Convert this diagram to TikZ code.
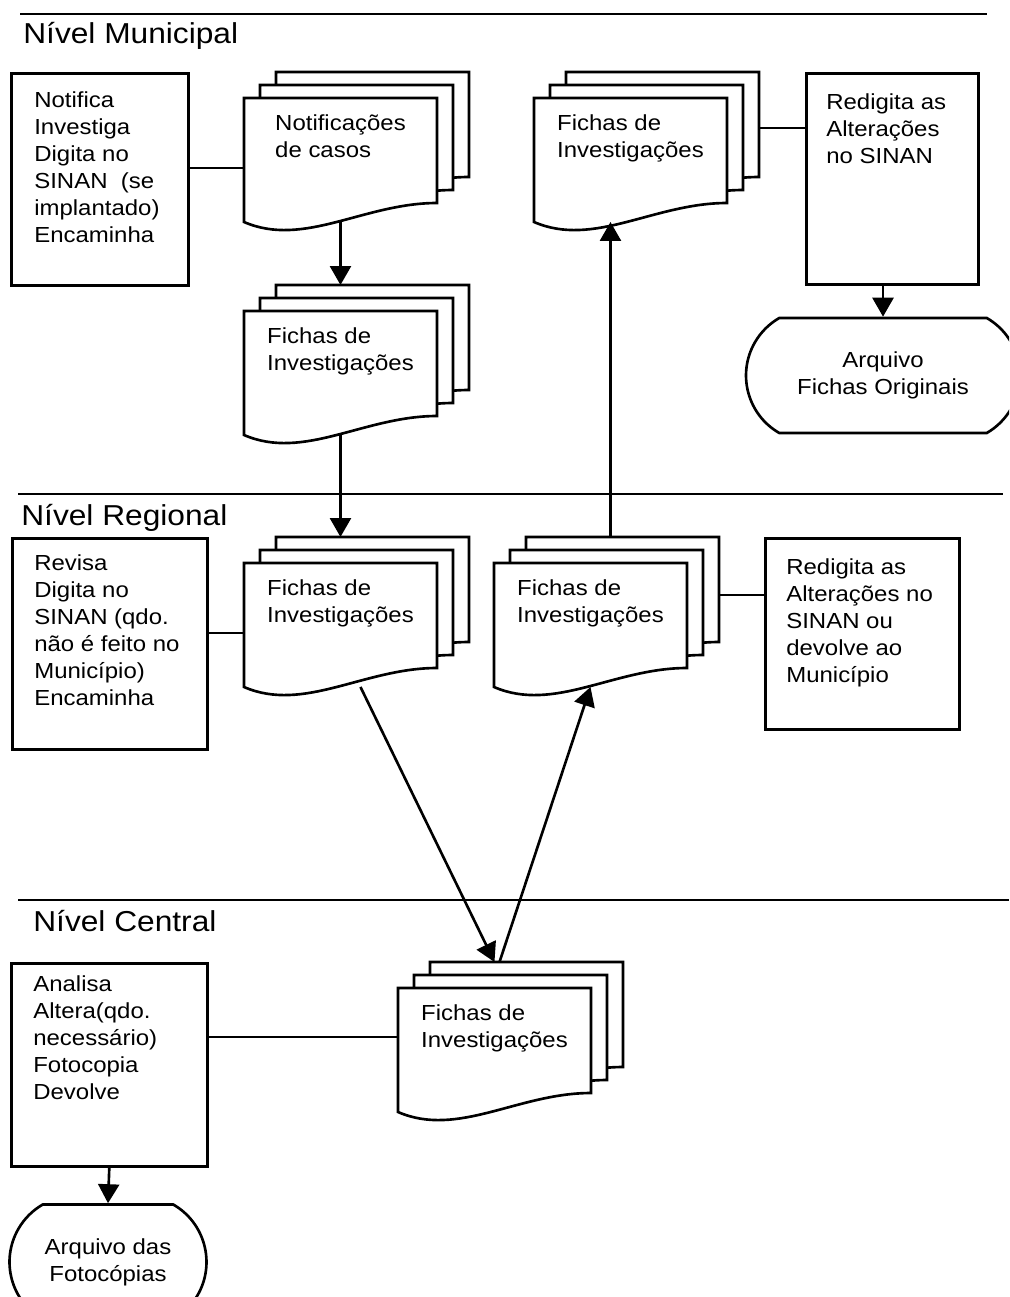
\documentclass[tikz,border=0pt]{standalone}
\usepackage{fontspec}
\setmainfont[FakeStretch=1.1]{Liberation Sans}
\usetikzlibrary{arrows.meta,shapes.misc}

\tikzset{
  txt/.style={font=\fontsize{12.4}{15.4}\selectfont, align=left, inner sep=0pt},
  nivel/.style={font=\fontsize{16.4}{19}\selectfont, inner sep=0pt, anchor=base west},
  caixa/.style={draw, anchor=north west, inner sep=0pt},
  pagebox/.style={anchor=north west, inner sep=0pt, outer sep=0pt,
    minimum width=3.86cm, minimum height=2.48cm},
  folha/.style={draw, fill=white},
  arquivo/.style={draw, rounded rectangle, rounded rectangle arc length=120,
    minimum height=2.3cm, inner sep=0pt, align=center,
    font=\fontsize{12.4}{15.4}\selectfont},
  seta/.style={-{Triangle[length=3.8mm,width=4.2mm]}},
}

% three stacked pages: name, x and y of the front page, text
\newcommand\fichas[4]{%
  \foreach \k in {2,1,0}
    \filldraw[folha, shift={(#2+16*\k,#3-13*\k)}] (0,0) -- (193,0) -- (193,105)
      .. controls (120,105) and (60,150) .. (0,124) -- cycle;
  \node[pagebox] (#1-b) at (#2+32,#3-26) {};
  \node[pagebox] (#1) at (#2,#3) {};
  \node[txt, anchor=north] (#1-t) at ([yshift=-3.1mm]#1.north) {#4};
}

\begin{document}
\begin{tikzpicture}[x=0.02cm, y=-0.02cm, line width=1.5pt]
\useasboundingbox (0,0) rectangle (1009,1297);
\clip (0,0) rectangle (1009,1297);

% Nivel Municipal
\draw (20,14) -- (987,14);
\node[nivel] (nmun) at (22,44) {Nível Municipal};
\node[caixa, minimum width=3.54cm, minimum height=4.24cm] (mbox) at (10,72) {};
\node[txt, anchor=north west] (mbox-t) at ([shift={(23,18.4)}]mbox.north west)
  {Notifica\\Investiga\\Digita no\\SINAN\ \ (se\\implantado)\\Encaminha};
\fichas{notif}{244}{98}{Notificações\\de casos}
\fichas{mfichas}{244}{311}{Fichas de\\Investigações}
\fichas{mret}{534}{98}{Fichas de\\Investigações}
\node[caixa, minimum width=3.44cm, minimum height=4.22cm] (mred) at (805,72) {};
\node[txt, anchor=north west] (mred-t) at ([shift={(20,20.4)}]mred.north west)
  {Redigita as\\Alterações\\no SINAN};
\node[arquivo, minimum width=5.48cm] (marq) at (883,375.5) {Arquivo\\Fichas Originais};

\draw ([yshift=-1.6mm]notif.west) coordinate (c1) -- (c1 -| mbox.east);
\draw ([yshift=1.2mm]mret-b.east) coordinate (c2) -- (c2 -| mred.west);
\draw[seta] (notif.south) -- (notif.south |- mfichas-b.north);
\draw[seta] (marq.north |- mred.south) -- (marq.north);

% Nivel Regional
\draw (18,494) -- (1003,494);
\node[nivel] (nreg) at (20,525) {Nível Regional};
\node[caixa, minimum width=3.9cm, minimum height=4.22cm] (rbox) at (11,537) {};
\node[txt, anchor=north west] (rbox-t) at ([shift={(22,16.4)}]rbox.north west)
  {Revisa\\Digita no\\SINAN (qdo.\\não é feito no\\Município)\\Encaminha};
\fichas{rfichas}{244}{563}{Fichas de\\Investigações}
\fichas{rdev}{494}{563}{Fichas de\\Investigações}
\node[caixa, minimum width=3.88cm, minimum height=3.82cm] (rred) at (764,537) {};
\node[txt, anchor=north west] (rred-t) at ([shift={(21,20.4)}]rred.north west)
  {Redigita as\\Alterações no\\SINAN ou\\devolve ao\\Município};

\draw ([yshift=-1.6mm]rfichas.west) coordinate (c3) -- (c3 -| rbox.east);
\draw ([yshift=0.8mm]rdev-b.east) coordinate (c4) -- (c4 -| rred.west);
\draw[seta] (mfichas.south) -- (mfichas.south |- rfichas-b.north);
\coordinate (mret-in) at ([xshift=-4mm]mret.south);
\draw[seta] (mret-in |- rdev-b.north) -- (mret-in);

% Nivel Central
\draw (18,900) -- (1009,900);
\node[nivel] (ncen) at (32,931) {Nível Central};
\node[caixa, minimum width=3.92cm, minimum height=4.06cm] (cbox) at (10,962) {};
\node[txt, anchor=north west] (cbox-t) at ([shift={(22,12.4)}]cbox.north west)
  {Analisa\\Altera(qdo.\\necessário)\\Fotocopia\\Devolve};
\fichas{cfichas}{398}{988}{Fichas de\\Investigações}
\node[arquivo, minimum width=3.94cm] (carq) at (108,1262) {Arquivo das\\Fotocópias};

\draw ([yshift=2.6mm]cfichas.west) coordinate (c5) -- (c5 -| cbox.east);
\draw[seta] (cbox.south) -- (carq.north);
\draw[seta] ([xshift=4mm]rfichas.south) -- ([xshift=-6.4mm]cfichas-b.north);
\draw[seta] ([xshift=-5.4mm]cfichas-b.north) -- (rdev.south);
\end{tikzpicture}
\end{document}
